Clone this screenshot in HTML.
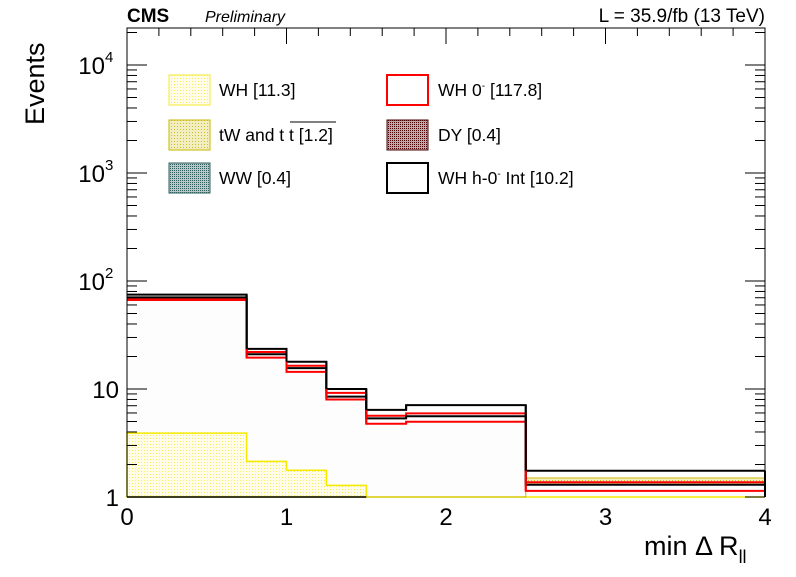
<!DOCTYPE html>
<html><head><meta charset="utf-8"><style>
body{margin:0;background:#fff;}
svg text{font-family:"Liberation Sans",sans-serif;}
</style></head><body>
<svg id="chart" width="796" height="572" xmlns="http://www.w3.org/2000/svg">
<defs>
<pattern id="pY" width="3" height="3" patternUnits="userSpaceOnUse"><rect width="3" height="3" fill="#fffde8"/><rect width="1" height="1" fill="#f5ec60"/></pattern>
<pattern id="pO" width="3" height="3" patternUnits="userSpaceOnUse"><rect width="3" height="3" fill="#f2eec0"/><rect width="1" height="1" fill="#c8bc30"/></pattern>
<pattern id="pG" width="2" height="2" patternUnits="userSpaceOnUse"><rect width="2" height="2" fill="#b8c8c8"/><rect width="1" height="1" fill="#2f5f5f"/></pattern>
<pattern id="pD" width="2" height="2" patternUnits="userSpaceOnUse"><rect width="2" height="2" fill="#c0a8a8"/><rect width="1" height="1" fill="#4a0000"/></pattern>
</defs>
<g id="plot"></g>
<text x="127" y="22" font-size="19" font-weight="bold">CMS</text>
<text x="205" y="22" font-size="16" font-style="italic">Preliminary</text>
<text x="765" y="22" font-size="19" text-anchor="end">L = 35.9/fb (13 TeV)</text>
<text transform="translate(44,125) rotate(-90)" font-size="27">Events</text>
<text x="644" y="555" font-size="27">min Δ R<tspan font-size="18" dy="8">ll</tspan></text>
<g font-size="17.5">
<rect x="169" y="75" width="41" height="30" fill="url(#pY)" stroke="#f5ea30"/>
<text x="219" y="96">WH [11.3]</text>
<rect x="169" y="120" width="41" height="30" fill="url(#pO)" stroke="#c8b800"/>
<text x="219" y="141">tW and t t [1.2]</text>
<line x1="290" y1="122" x2="336" y2="122" stroke="#000" stroke-width="1"/>
<rect x="169" y="163" width="41" height="30" fill="url(#pG)" stroke="#2f5f5f"/>
<text x="219" y="184">WW [0.4]</text>
<rect x="387" y="75" width="41" height="30" fill="none" stroke="#f00" stroke-width="2"/>
<text x="438" y="96">WH 0<tspan font-size="10" dy="-7">-</tspan><tspan dy="7"> [117.8]</tspan></text>
<rect x="387" y="120" width="41" height="30" fill="url(#pD)" stroke="#4a0000"/>
<text x="438" y="141">DY [0.4]</text>
<rect x="387" y="163" width="41" height="30" fill="none" stroke="#000" stroke-width="2"/>
<text x="438" y="184">WH h-0<tspan font-size="10" dy="-7">-</tspan><tspan dy="7"> Int [10.2]</tspan></text>
</g>
</svg>
<script>
const binEdges=[0,0.75,1.0,1.25,1.5,1.75,2.5,4];
const whBkg=[3.9,2.14,1.77,1.28,0.9,0.9,1.0];
const bandLow=[1,1,1,1,1,1,1.35];
const bandHigh=[1,1,1,1,1,1,1.5];
const redLow=[66.7,19.5,14.4,8.0,4.77,4.98,1.14];
const redTop=[68,22,16.4,9.2,5.66,5.95,1.37];
const blackMid=[70.5,21.0,15.6,8.5,5.34,5.6,1.30];
const blackTop=[74.7,23.5,17.9,10.0,6.4,7.1,1.75];
const xTicks=[0,1,2,3,4];
const yDecades=[1,10,100,1000,10000];
const yDecExp=["","","2","3","4"];
const X0=127,X1=765,Y0=497,Y1=28,DEC=108;
const ymax=Math.pow(10,(Y0-Y1)/DEC);
function sx(v){return X0+(v-0)/(4-0)*(X1-X0);}
function sy(v){if(v<1)v=1;return Y0-Math.log10(v)*DEC;}
const NS="http://www.w3.org/2000/svg";
const g=document.getElementById('plot');
function mk(t,a){const e=document.createElementNS(NS,t);for(const k in a)e.setAttribute(k,a[k]);g.appendChild(e);return e;}
function stepPath(vals){let d="";for(let i=0;i<vals.length;i++){const x0=sx(binEdges[i]),x1=sx(binEdges[i+1]),y=sy(vals[i]);d+=(i?"L":"M")+x0+","+y+"L"+x1+","+y;}return d;}
function area(vals,base){let d="M"+sx(binEdges[0])+","+sy(base?base[0]:1);for(let i=0;i<vals.length;i++){d+="L"+sx(binEdges[i])+","+sy(vals[i])+"L"+sx(binEdges[i+1])+","+sy(vals[i]);}
 if(base){for(let i=vals.length-1;i>=0;i--){d+="L"+sx(binEdges[i+1])+","+sy(base[i])+"L"+sx(binEdges[i])+","+sy(base[i]);}}else d+="L"+sx(binEdges[vals.length])+","+Y0;return d+"Z";}
let e;
e=mk('path',{d:area(redLow),fill:'#fdfdfd'});


e=mk('path',{d:area(whBkg),fill:'url(#pY)',stroke:'#f5ea00','stroke-width':1.5});


e=mk('path',{d:area(bandHigh,bandLow),fill:'url(#pO)',stroke:'#c8b800','stroke-width':1});


e=mk('line',{x1:X0,y1:Y0,x2:sx(1.5),y2:Y0,stroke:'#000','stroke-width':1.5});


const series=[[redLow,'#f00','wh0m-line'],[redTop,'#f00','wh0m-stack-line'],[blackMid,'#000','interference-line'],[blackTop,'#000','total-line']];
for(const s of series){e=mk('path',{d:stepPath(s[0]),fill:'none',stroke:s[1],'stroke-width':2});

}
for(const s of [[redLow,'#f00'],[blackTop,'#000']]){for(let i=0;i<s[0].length-1;i++){e=mk('line',{x1:sx(binEdges[i+1]),y1:sy(s[0][i]),x2:sx(binEdges[i+1]),y2:sy(s[0][i+1]),stroke:s[1],'stroke-width':2});

}
e=mk('line',{x1:sx(4),y1:sy(s[0][6]),x2:sx(4),y2:Y0,stroke:s[1],'stroke-width':2});}
e=mk('path',{d:`M${X0},${Y0}L${X0},${Y1}L${X1},${Y1}L${X1},${Y0}`,fill:'none',stroke:'#000','stroke-width':1});


for(let d=0;d<yDecades.length;d++){const v=yDecades[d];
 mk('line',{x1:X0,y1:sy(v),x2:X0+20,y2:sy(v),stroke:'#000'});
 mk('line',{x1:X1,y1:sy(v),x2:X1-20,y2:sy(v),stroke:'#000'});
 const exp=yDecExp[d];
 e=mk('text',{x:(exp?X0-22:X0-8),y:sy(v)+9,'font-size':24,'text-anchor':'end'});e.textContent=exp?"10":String(v);
 
 
 if(exp){e=mk('text',{x:X0-22,y:sy(v)-3,'font-size':15});e.textContent=exp;
 
 }
 for(let m=2;m<10;m++){const mv=v*m;if(mv>ymax)break;mk('line',{x1:X0,y1:sy(mv),x2:X0+10,y2:sy(mv),stroke:'#000'});mk('line',{x1:X1,y1:sy(mv),x2:X1-10,y2:sy(mv),stroke:'#000'});}}
for(let t=0;t<=20;t++){const v=t*0.2;const len=(t%5==0)?16:8;mk('line',{x1:sx(v),y1:Y1,x2:sx(v),y2:Y1+len,stroke:'#000'});}
for(const v of xTicks){e=mk('text',{x:sx(v),y:Y0+28,'font-size':24,'text-anchor':'middle'});e.textContent=v;
 
 }
</script>
</body></html>
